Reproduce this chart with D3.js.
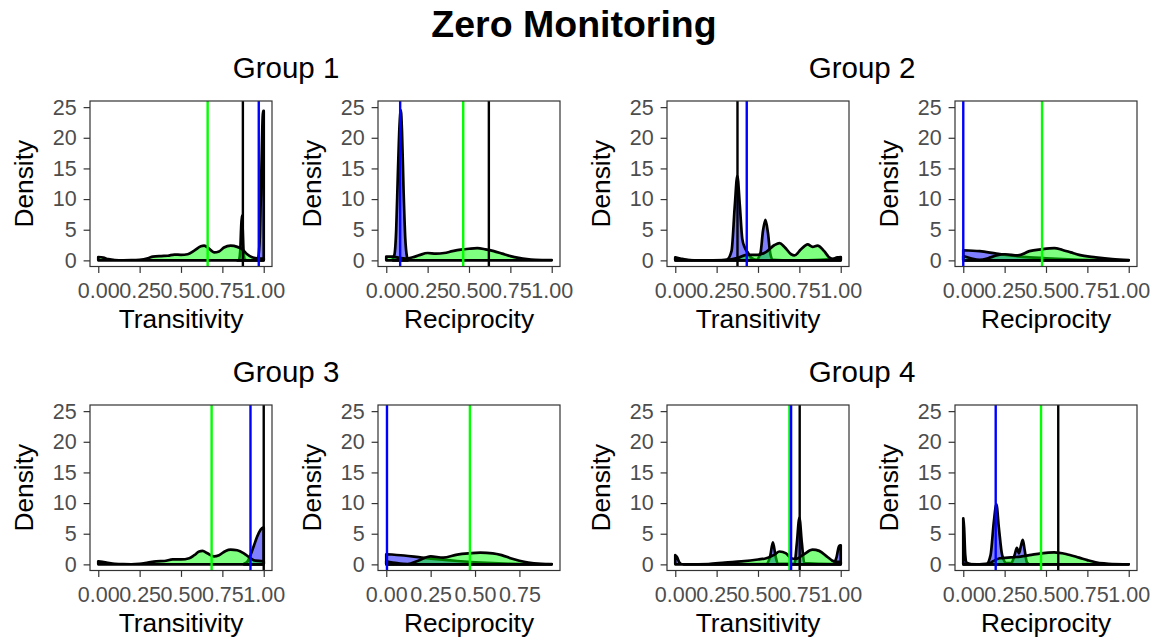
<!DOCTYPE html>
<html>
<head>
<meta charset="utf-8">
<script src="https://cdn.jsdelivr.net/npm/d3@7"></script>
<style>
  html, body { margin: 0; padding: 0; background: #fff; }
  svg { display: block; font-family: "Liberation Sans", Arial, Helvetica, sans-serif; }
</style>
</head>
<body>
<svg id="chart" width="1161" height="641"></svg>
<script>
// ---- data -------------------------------------------------------------
const chartTitle = "Zero Monitoring";
const groups = ["Group 1", "Group 2", "Group 3", "Group 4"];
const measures = ["Transitivity", "Reciprocity"];
const yTicks = [0, 5, 10, 15, 20, 25];
const xTicks = [0, 0.25, 0.5, 0.75, 1];

// density curves: [value, density]
const g1TransBlue = [[0.84,0],[0.85,0.05],[0.858,1.5],[0.863,5],[0.868,7.3],[0.873,5],[0.878,1.5],[0.886,0.1],[0.9,0.02],[0.95,0.02],[0.965,0.3],[0.975,3],[0.983,11],[0.99,20],[0.996,24.4],[1.0,24.4]];
const g1TransGreen = [[0,0.55],[0.03,0.45],[0.06,0.2],[0.1,0.05],[0.15,0.02],[0.2,0.03],[0.25,0.1],[0.3,0.35],[0.33,0.6],[0.38,0.7],[0.42,0.75],[0.46,0.95],[0.5,0.9],[0.54,1.0],[0.58,1.6],[0.62,2.3],[0.64,2.4],[0.67,1.9],[0.7,1.3],[0.73,1.45],[0.76,2.1],[0.8,2.4],[0.84,2.2],[0.87,1.8],[0.9,1.0],[0.93,0.5],[0.96,0.35],[1.0,0.3]];
const g1RecipBlue = [[0.04,0.3],[0.05,1],[0.06,5],[0.07,14],[0.08,22],[0.088,24.5],[0.095,21],[0.105,11],[0.115,3.5],[0.125,0.6],[0.13,0.2]];
const g1RecipGreen = [[0,0.6],[0.04,0.6],[0.08,0.4],[0.12,0.3],[0.16,0.5],[0.2,0.85],[0.25,1.2],[0.3,1.1],[0.35,1.2],[0.4,1.5],[0.45,1.75],[0.5,1.9],[0.55,2.0],[0.6,1.8],[0.65,1.5],[0.7,1.1],[0.75,0.7],[0.8,0.4],[0.85,0.2],[0.9,0.1],[1.0,0.05]];
const g2TransBlue = [[0,0.5],[0.03,0.3],[0.08,0.05],[0.15,0.01],[0.25,0.01],[0.31,0.1],[0.34,1.5],[0.36,9],[0.375,13.8],[0.39,9],[0.405,3.5],[0.42,2.1],[0.44,1.2],[0.46,0.4],[0.49,0.1],[0.515,1.2],[0.53,4.8],[0.545,6.6],[0.56,4.5],[0.575,1.0],[0.59,0.1],[0.65,0.02],[0.8,0.02],[0.95,0.2],[0.98,0.5],[1.0,0.55]];
const g2TransGreen = [[0,0.3],[0.05,0.1],[0.15,0.01],[0.3,0.05],[0.38,0.4],[0.43,0.9],[0.5,0.9],[0.55,1.4],[0.6,2.5],[0.63,2.8],[0.66,2.2],[0.7,1.0],[0.72,0.8],[0.76,1.8],[0.8,2.6],[0.83,2.2],[0.86,2.4],[0.9,1.5],[0.93,0.5],[0.96,0.2],[0.98,0.3],[1.0,0.5]];
const g2RecipBlue = [[0,1.65],[0.1,1.5],[0.2,1.1],[0.3,0.75],[0.4,0.5],[0.5,0.35],[0.6,0.2],[0.7,0.1],[0.8,0.05],[0.9,0.02],[1.0,0.01]];
const g2RecipGreen = [[0,0.7],[0.05,0.3],[0.1,0.1],[0.15,0.35],[0.2,0.8],[0.25,1.0],[0.33,0.8],[0.4,1.5],[0.47,1.8],[0.55,2.0],[0.6,1.7],[0.65,1.3],[0.7,0.9],[0.8,0.5],[0.9,0.2],[1.0,0.05]];
const g3TransBlue = [[0.88,0.1],[0.9,0.4],[0.92,1.5],[0.94,3.0],[0.96,4.5],[0.98,5.6],[0.995,6.0],[1.0,6.0]];
const g3TransGreen = [[0,0.5],[0.05,0.3],[0.1,0.1],[0.15,0.03],[0.2,0.02],[0.25,0.1],[0.3,0.3],[0.35,0.5],[0.4,0.55],[0.45,0.8],[0.5,0.8],[0.55,1.0],[0.58,1.5],[0.61,2.1],[0.63,2.2],[0.66,1.8],[0.7,1.3],[0.73,1.5],[0.77,2.2],[0.8,2.4],[0.84,2.3],[0.88,1.8],[0.92,1.0],[0.95,0.6],[1.0,0.5]];
const g3RecipBlue = [[0,1.65],[0.1,1.45],[0.2,1.1],[0.25,0.95],[0.3,0.8],[0.4,0.55],[0.5,0.35],[0.6,0.2],[0.7,0.1],[0.8,0.05],[0.932,0.01]];
const g3RecipGreen = [[0,0.5],[0.06,0.2],[0.12,0.05],[0.18,0.6],[0.25,1.3],[0.32,1.1],[0.4,1.6],[0.47,1.8],[0.53,1.9],[0.6,1.8],[0.65,1.5],[0.7,1.0],[0.75,0.6],[0.8,0.3],[0.87,0.1],[0.932,0.05]];
const g4TransBlue = [[0,1.5],[0.01,1.2],[0.025,0.3],[0.04,0.02],[0.3,0.01],[0.55,0.05],[0.575,1.5],[0.59,3.6],[0.605,1.5],[0.62,0.1],[0.72,0.1],[0.735,3.5],[0.75,7.6],[0.765,3.5],[0.78,0.2],[0.95,0.05],[0.975,1.2],[0.99,3.0],[1.0,3.1]];
const g4TransGreen = [[0.05,0.01],[0.2,0.05],[0.3,0.3],[0.4,0.5],[0.5,0.8],[0.55,1.0],[0.6,1.6],[0.63,2.1],[0.67,1.8],[0.7,1.0],[0.73,0.9],[0.78,1.7],[0.83,2.4],[0.87,2.2],[0.92,1.2],[0.95,0.6],[0.98,0.4],[1.0,0.4]];
const g4RecipBlue = [[0,7.5],[0.005,6],[0.012,1.5],[0.02,0.3],[0.05,0.02],[0.14,0.05],[0.165,1.5],[0.185,7],[0.2,9.8],[0.215,6],[0.235,1.5],[0.26,0.2],[0.29,0.2],[0.31,1.5],[0.324,2.7],[0.337,1.8],[0.35,3.2],[0.36,4.0],[0.37,2.5],[0.385,0.3],[0.4,0.02],[0.6,0.01],[1.0,0.01]];
const g4RecipGreen = [[0,0.1],[0.1,0.02],[0.15,0.1],[0.18,0.5],[0.22,1.0],[0.27,1.1],[0.32,1.2],[0.4,1.5],[0.47,1.8],[0.55,1.95],[0.62,1.7],[0.7,1.1],[0.75,0.7],[0.8,0.35],[0.85,0.15],[0.9,0.05],[1.0,0.02]];

// reference lines in drawing order: green, black, blue (null = not shown)
const refColors = ["#00FF00", "#000000", "#0000FF"];
const g1TransRefs = [0.661, 0.874, 0.970];
const g1RecipRefs = [0.465, 0.620, 0.084];
const g2TransRefs = [null, 0.376, 0.432];
const g2RecipRefs = [0.476, null, 0.0];
const g3TransRefs = [0.685, 1.0, 0.920];
const g3RecipRefs = [0.471, null, 0.004];
const g4TransRefs = [0.690, 0.752, 0.700];
const g4RecipRefs = [0.470, 0.574, 0.196];

const panels = [
  { group: 0, measure: 0, blue: g1TransBlue, green: g1TransGreen, refs: g1TransRefs },
  { group: 0, measure: 1, blue: g1RecipBlue, green: g1RecipGreen, refs: g1RecipRefs },
  { group: 1, measure: 0, blue: g2TransBlue, green: g2TransGreen, refs: g2TransRefs },
  { group: 1, measure: 1, blue: g2RecipBlue, green: g2RecipGreen, refs: g2RecipRefs },
  { group: 2, measure: 0, blue: g3TransBlue, green: g3TransGreen, refs: g3TransRefs },
  { group: 2, measure: 1, blue: g3RecipBlue, green: g3RecipGreen, refs: g3RecipRefs },
  { group: 3, measure: 0, blue: g4TransBlue, green: g4TransGreen, refs: g4TransRefs },
  { group: 3, measure: 1, blue: g4RecipBlue, green: g4RecipGreen, refs: g4RecipRefs }
];

// ---- layout -----------------------------------------------------------
const svg = d3.select("#chart");
const panelW = 182, panelH = 165.5;
const colLeft = [90, 378, 667, 955];
const rowTop = [101, 405];
const groupCenter = [286, 862];
const tickLen = 6.4;
const axisGrey = "#333333", labelGrey = "#4D4D4D";

svg.append("text")
  .attr("x", 574).attr("y", 37)
  .attr("text-anchor", "middle")
  .attr("font-size", 37.5).attr("font-weight", "bold")
  .attr("fill", "#000")
  .text(chartTitle);

groups.forEach((g, i) => {
  svg.append("text")
    .attr("x", groupCenter[i % 2])
    .attr("y", rowTop[Math.floor(i / 2)] - 23)
    .attr("text-anchor", "middle")
    .attr("font-size", 29.5)
    .attr("fill", "#000")
    .text(g);
});

const fmt = d3.format(".2f");

panels.forEach((p, idx) => {
  const col = (p.group % 2) * 2 + p.measure;
  const row = Math.floor(p.group / 2);
  const left = colLeft[col], top = rowTop[row];

  const xMax = d3.max([...p.blue, ...p.green], d => d[0]);
  const xMin = 0;
  const pad = (xMax - xMin) * 0.05;
  const x = d3.scaleLinear().domain([xMin - pad, xMax + pad]).range([0, panelW]);
  const y = d3.scaleLinear().domain([-1.0, 26.0]).range([panelH, 0]);

  const gp = svg.append("g").attr("transform", `translate(${left},${top})`);
  const clipId = "clip" + idx;
  gp.append("clipPath").attr("id", clipId)
    .append("rect").attr("width", panelW).attr("height", panelH);

  const plot = gp.append("g").attr("clip-path", `url(#${clipId})`);

  const area = d3.area()
    .x(d => x(d[0]))
    .y0(y(0))
    .y1(d => y(d[1]))
    .curve(d3.curveMonotoneX);

  plot.append("path").datum(p.blue)
    .attr("d", area)
    .attr("fill", "rgba(0,0,255,0.5)")
    .attr("stroke", "#000").attr("stroke-width", 2.7)
    .attr("stroke-linejoin", "round");

  plot.append("path").datum(p.green)
    .attr("d", area)
    .attr("fill", "rgba(0,255,0,0.5)")
    .attr("stroke", "#000").attr("stroke-width", 2.7)
    .attr("stroke-linejoin", "round");

  const refs = p.refs.map((v, i) => ({ v, c: refColors[i] })).filter(r => r.v !== null);
  plot.selectAll("line.ref").data(refs).enter().append("line")
    .attr("class", "ref")
    .attr("x1", d => x(d.v)).attr("x2", d => x(d.v))
    .attr("y1", 0).attr("y2", panelH)
    .attr("stroke", d => d.c)
    .attr("stroke-width", 2.4);

  // panel border
  gp.append("rect")
    .attr("width", panelW).attr("height", panelH)
    .attr("fill", "none").attr("stroke", axisGrey).attr("stroke-width", 1.2);

  // x axis
  const ticksX = xTicks.filter(t => t <= xMax + 1e-9);
  const xAxis = d3.axisBottom(x).tickValues(ticksX).tickFormat(fmt)
    .tickSize(tickLen).tickPadding(5);
  const gx = gp.append("g").attr("transform", `translate(0,${panelH})`).call(xAxis);
  gx.select(".domain").remove();
  gx.selectAll(".tick line").attr("stroke", axisGrey).attr("stroke-width", 1.2);
  gx.selectAll(".tick text")
    .attr("fill", labelGrey).attr("font-size", 21.5)
    .attr("font-family", "Liberation Sans, Arial, sans-serif")
    .attr("dy", null).attr("y", 31.5);

  // y axis
  const yAxis = d3.axisLeft(y).tickValues(yTicks).tickSize(tickLen).tickPadding(7);
  const gy = gp.append("g").call(yAxis);
  gy.select(".domain").remove();
  gy.selectAll(".tick line").attr("stroke", axisGrey).attr("stroke-width", 1.2);
  gy.selectAll(".tick text")
    .attr("fill", labelGrey).attr("font-size", 21.5)
    .attr("font-family", "Liberation Sans, Arial, sans-serif");

  // axis titles
  gp.append("text")
    .attr("x", panelW / 2).attr("y", panelH + 61)
    .attr("text-anchor", "middle")
    .attr("font-size", 26.3).attr("fill", "#000")
    .text(measures[p.measure]);

  gp.append("text")
    .attr("transform", `translate(-57,${panelH / 2}) rotate(-90)`)
    .attr("text-anchor", "middle")
    .attr("font-size", 26.3).attr("fill", "#000")
    .text("Density");
});
</script>
</body>
</html>
